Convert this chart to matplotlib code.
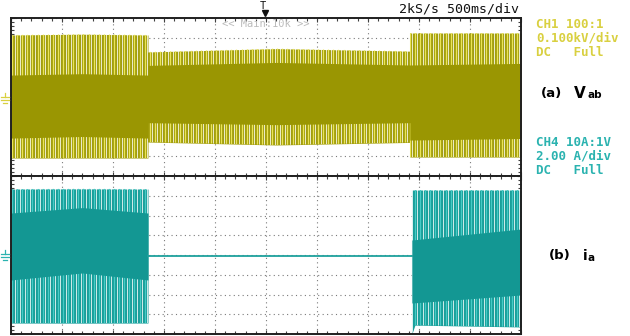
import numpy as np
import matplotlib
matplotlib.use('Agg')
import matplotlib.pyplot as plt
from matplotlib.lines import Line2D

W, H = 630, 336

# screen: 10 div x 0.5 s, each panel 8 div
t_div = 0.5
v_div = 100.0   # CH1 0.100 kV/div
i_div = 2.0     # CH4 2.00 A/div

# CH1 (Vab) envelope knots, volts
v_t        = [0.0, 0.70, 1.343, 1.343, 2.60, 3.91, 3.91, 5.0]
v_outer_hi = [314, 318, 314, 228, 245, 232, 324, 324]
v_inner_hi = [111, 118, 111, 160, 175, 162, 162, 170]
v_inner_lo = [-208, -200, -208, -130, -140, -130, -218, -210]
v_outer_lo = [-309, -309, -309, -228, -243, -230, -304, -304]

# CH4 (ia) envelope knots, amps
i_t        = [0.0, 0.70, 1.343, 1.343, 3.93, 3.93, 3.96, 5.0]
i_outer_hi = [6.68, 6.70, 6.68, -0.15, -0.15, 6.58, 6.58, 6.58]
i_inner_hi = [4.25, 4.80, 4.25, -0.15, -0.15, 1.52, 1.55, 2.63]
i_inner_lo = [-2.53, -1.82, -2.53, -0.15, -0.15, -4.86, -4.84, -4.05]
i_outer_lo = [-6.89, -6.90, -6.89, -0.15, -0.15, -8.0, -7.1, -7.29]
i_flat_t = [1.343, 3.93]
i_flat = [-0.15, -0.15]

spike_step = 0.05


def fx(x):
    return x / W


def fy(y):
    return 1 - y / H


def scope_axes(rect, ydiv):
    ax = fig.add_axes(rect)
    ax.set_xlim(0, 10 * t_div)
    ax.set_ylim(-4 * ydiv, 4 * ydiv)
    ax.set_xticks(np.arange(0, 10 * t_div + 1e-9, t_div))
    ax.set_yticks(np.arange(-4 * ydiv, 4 * ydiv + 1e-9, ydiv))
    ax.set_xticks(np.arange(0, 10 * t_div + 1e-9, t_div / 5), minor=True)
    ax.set_yticks(np.arange(-4 * ydiv, 4 * ydiv + 1e-9, ydiv / 5), minor=True)
    ax.tick_params(which='both', direction='in', labelbottom=False, labelleft=False,
                   top=True, right=True, length=3, width=0.8, color='#404040')
    ax.tick_params(which='minor', length=2)
    ax.grid(True, which='major', color='#7a7a7a', linestyle=(0, (1, 3)), linewidth=0.8)
    ax.set_axisbelow(True)
    for s in ax.spines.values():
        s.set_linewidth(1.4)
        s.set_color('#202020')
    return ax


def trace(ax, t, ohi, ihi, ilo, olo, c_outer, c_inner, c_spike, ydiv):
    outer = ax.fill_between(t, olo, ohi, color=c_outer, lw=0, zorder=2)
    clip = outer.get_paths()[0]
    pos = np.arange(0.01, 5.0, spike_step)
    gaps = ax.vlines(pos + spike_step / 2, -4 * ydiv, 4 * ydiv, color='white',
                     lw=0.7, alpha=0.8, zorder=2.1)
    gaps.set_clip_path(clip, ax.transData)
    sp = ax.vlines(pos, -4 * ydiv, 4 * ydiv, color=c_spike, lw=0.9, zorder=2.2)
    sp.set_clip_path(clip, ax.transData)
    ax.fill_between(t, ilo, ihi, color=c_inner, lw=0, zorder=2.3)


fig = plt.figure(figsize=(W / 100, H / 100), dpi=100)
fig.patch.set_facecolor('white')

ax1 = scope_axes([fx(11), fy(176), 510 / W, 158 / H], v_div)
trace(ax1, v_t, v_outer_hi, v_inner_hi, v_inner_lo, v_outer_lo,
      '#a29e0e', '#9a9602', '#ebe556', v_div)

ax2 = scope_axes([fx(11), fy(334), 510 / W, 158 / H], i_div)
trace(ax2, i_t, i_outer_hi, i_inner_hi, i_inner_lo, i_outer_lo,
      '#1a9e9a', '#139793', '#45cbc6', i_div)
ax2.plot(i_flat_t, i_flat, color='#1ea19d', lw=1.3, zorder=3)

mono = 'DejaVu Sans Mono'
yel = '#d9d040'
teal = '#2bb3b0'

fig.text(fx(399), fy(9), '2kS/s 500ms/div', family=mono, fontsize=9.5,
         va='center', ha='left', color='#111111')
fig.text(fx(263), fy(6), 'T', family=mono, fontsize=7.5, va='center', ha='center',
         color='#111111')
fig.add_artist(Line2D([fx(265)], [fy(13)], marker='v', markersize=4,
                      color='#111111', transform=fig.transFigure))
fig.text(fx(266), fy(24), '<< Main:10k >>', family=mono, fontsize=7.5,
         va='center', ha='center', color='#bcbcbc')

for k, s in enumerate(['CH1 100:1', '0.100kV/div', 'DC   Full']):
    fig.text(fx(536), fy(24 + 14 * k), s, family=mono, fontsize=9,
             weight='bold', va='center', ha='left', color=yel)
for k, s in enumerate(['CH4 10A:1V', '2.00 A/div', 'DC   Full']):
    fig.text(fx(536), fy(142 + 14 * k), s, family=mono, fontsize=9,
             weight='bold', va='center', ha='left', color=teal)

fig.text(fx(541), fy(93), '(a)', fontsize=9.5, weight='bold', va='center', ha='left')
fig.text(fx(574), fy(93), 'V', fontsize=11, weight='bold', va='center', ha='left')
fig.text(fx(587), fy(95), 'ab', fontsize=7.5, weight='bold', va='center', ha='left')
fig.text(fx(549), fy(256), '(b)', fontsize=9.5, weight='bold', va='center', ha='left')
fig.text(fx(583), fy(256), 'i', fontsize=10, weight='bold', va='center', ha='left')
fig.text(fx(588), fy(258), 'a', fontsize=7.5, weight='bold', va='center', ha='left')

# ground markers
for gy, gc in [(100, yel), (257, teal)]:
    for dy, half in [(-3, 4), (0, 4), (3, 2)]:
        fig.add_artist(Line2D([fx(5 - half), fx(5 + half)], [fy(gy + dy), fy(gy + dy)],
                              color=gc, lw=0.9, transform=fig.transFigure))
    fig.add_artist(Line2D([fx(5), fx(5)], [fy(gy - 7), fy(gy - 3)],
                          color=gc, lw=0.9, transform=fig.transFigure))

fig.savefig('out.png', dpi=100)
